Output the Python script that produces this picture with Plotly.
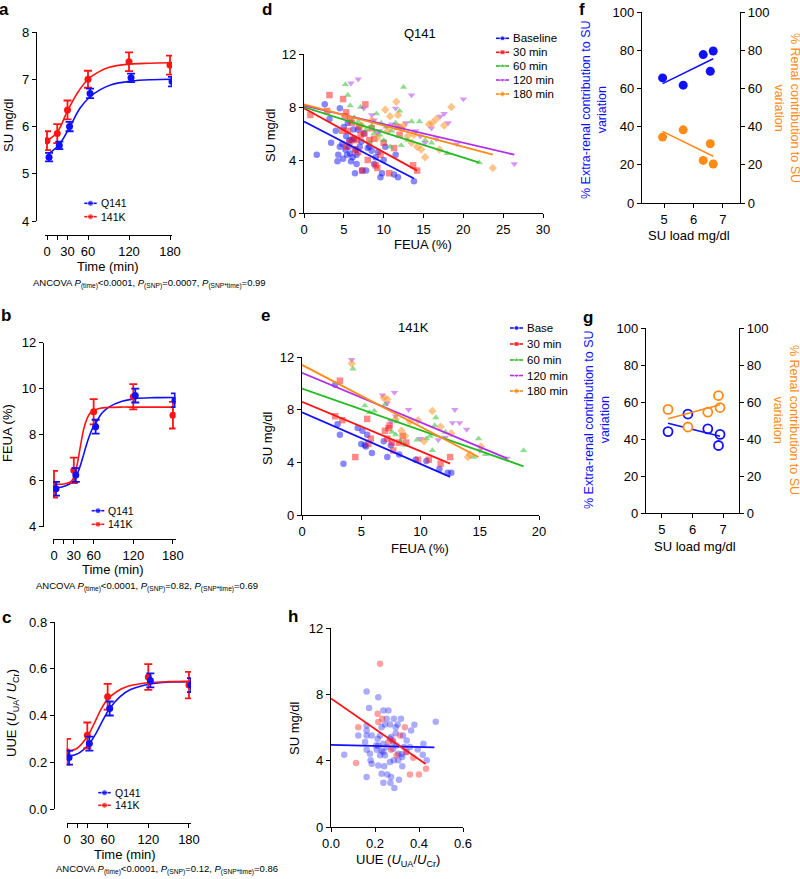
import plotly.graph_objects as go

W, H = 800, 879
FONT = "Liberation Sans, Arial, Helvetica, sans-serif"
BLUE = "#1010ff"
RED = "#ff1414"
GREEN = "#22bb22"
PURPLE = "#b030e8"
ORANGE = "#ff8a14"

# ------------------------------------------------------------------ data
# panel a : SU over time
a_time = [0, 15, 30, 60, 120, 180]
a_q141 = [5.35, 5.60, 6.00, 6.70, 7.03, 6.95]
a_q141_sem = [0.09, 0.08, 0.10, 0.10, 0.09, 0.10]
a_141k = [5.70, 5.85, 6.35, 7.00, 7.37, 7.30]
a_141k_sem = [0.20, 0.20, 0.20, 0.18, 0.20, 0.20]
a_fit_t = [0, 15, 30, 45, 60, 75, 90, 120, 150, 180]
a_fit_q141 = [5.43, 5.62, 5.98, 6.38, 6.63, 6.78, 6.88, 6.96, 6.99, 7.00]
a_fit_141k = [5.70, 5.88, 6.33, 6.72, 7.00, 7.15, 7.25, 7.32, 7.34, 7.35]

# panel b : FEUA over time
b_time = [0, 30, 60, 120, 180]
b_q141 = [5.65, 6.25, 8.35, 9.70, 9.50]
b_q141_sem = [0.30, 0.30, 0.30, 0.30, 0.30]
b_141k = [5.85, 6.45, 9.00, 9.65, 8.85]
b_141k_sem = [0.58, 0.55, 0.55, 0.55, 0.58]
b_fit_t = [0, 15, 25, 30, 35, 40, 45, 50, 55, 60, 70, 80, 100, 120, 150, 180]
b_fit_q141 = [5.68, 5.78, 5.95, 6.15, 6.50, 6.95, 7.45, 7.90, 8.25, 8.50, 8.95, 9.20, 9.45, 9.57, 9.61, 9.62]
b_fit_141k = [5.85, 5.86, 5.95, 6.15, 6.70, 7.50, 8.25, 8.70, 8.95, 9.05, 9.15, 9.18, 9.20, 9.20, 9.20, 9.20]

# panel c : UUE over time
c_time = [0, 30, 60, 120, 180]
c_q141 = [0.22, 0.28, 0.43, 0.55, 0.53]
c_q141_sem = [0.03, 0.03, 0.03, 0.03, 0.03]
c_141k = [0.245, 0.315, 0.48, 0.565, 0.53]
c_141k_sem = [0.055, 0.055, 0.055, 0.055, 0.057]
c_fit_t = [0, 15, 30, 40, 50, 60, 75, 90, 120, 150, 180]
c_fit_q141 = [0.225, 0.24, 0.28, 0.325, 0.38, 0.43, 0.48, 0.51, 0.535, 0.543, 0.545]
c_fit_141k = [0.245, 0.26, 0.31, 0.365, 0.425, 0.47, 0.505, 0.525, 0.54, 0.545, 0.546]

time_ticks = [0, 15, 30, 60, 120, 180]
time_ticktext = ["0", "", "30", "60", "120", "180"]

# panel d : Q141 SU vs FEUA
d_groups = ["Baseline", "30 min", "60 min", "120 min", "180 min"]
d_x = {
    "Baseline": [1.6, 2.6, 3.2, 3.4, 4.0, 4.2, 4.3, 4.5, 4.5, 4.8, 5.0, 5.2, 5.3, 5.4, 5.6, 5.8, 5.9, 6.0,
                 6.1, 6.2, 6.4, 6.5, 6.6, 6.8, 7.0, 7.3, 7.5, 7.8, 8.0, 8.2, 8.5, 8.8, 9.0, 9.3, 9.6, 9.8,
                 10.0, 10.2, 11.3, 11.5, 11.8, 13.8, 5.5, 6.3, 7.2, 4.9, 5.7, 6.6],
    "30 min": [0.8, 3.2, 2.9, 4.9, 5.1, 5.3, 5.3, 5.5, 5.7, 6.0, 6.2, 6.4, 6.6, 6.9, 7.1, 7.3, 7.7, 8.0,
               8.2, 8.5, 8.8, 9.0, 9.2, 9.6, 10.0, 10.7, 11.3, 11.7, 12.0, 13.7, 14.2, 4.8, 5.8, 6.8, 7.6],
    "60 min": [5.2, 5.5, 5.8, 6.3, 7.1, 7.3, 7.8, 8.2, 8.5, 9.1, 9.5, 10.0, 10.3, 11.0, 11.5, 12.0, 12.5,
               13.0, 13.5, 14.5, 15.2, 16.0, 18.0, 22.0, 6.8, 8.8, 10.8, 12.2, 9.7],
    "120 min": [5.9, 6.8, 7.5, 8.5, 8.8, 9.5, 10.3, 11.0, 11.5, 12.2, 13.5, 14.0, 15.2, 16.0, 17.1, 17.6,
                18.1, 19.2, 20.0, 26.4, 12.8, 16.6, 9.2, 14.6],
    "180 min": [7.2, 9.2, 10.2, 10.8, 11.6, 11.8, 12.2, 13.0, 13.5, 14.2, 14.7, 15.2, 15.7, 16.1, 16.6,
                17.0, 17.6, 18.5, 23.7, 8.5, 12.5, 13.8, 10.5],
}
d_y = {
    "Baseline": [4.4, 8.2, 7.1, 5.3, 6.2, 3.9, 4.4, 5.0, 7.9, 5.2, 6.5, 4.8, 5.8, 4.4, 5.0, 4.5, 3.9, 5.5,
                 4.2, 6.3, 3.0, 4.8, 3.7, 6.3, 5.0, 3.2, 6.0, 3.2, 4.9, 5.0, 4.7, 3.7, 4.2, 4.6, 2.7, 3.0,
                 4.0, 5.0, 2.9, 4.4, 2.7, 2.4, 6.8, 5.6, 5.4, 4.1, 5.5, 4.4],
    "30 min": [7.4, 8.9, 7.7, 8.6, 7.3, 7.6, 5.0, 6.2, 5.3, 6.8, 5.6, 4.8, 5.5, 6.5, 5.9, 3.2, 8.2, 4.0,
               5.5, 6.4, 5.6, 3.6, 3.4, 4.4, 5.3, 3.0, 4.9, 6.5, 5.9, 3.6, 3.2, 6.2, 7.0, 4.6, 6.0],
    "60 min": [9.7, 8.9, 8.1, 7.2, 8.0, 6.6, 6.3, 5.3, 6.6, 7.5, 5.9, 5.5, 6.5, 6.2, 6.8, 7.7, 9.5,
               5.5, 6.9, 6.9, 5.5, 5.3, 4.5, 3.8, 6.9, 6.0, 5.0, 5.1, 6.8],
    "120 min": [9.8, 10.1, 7.9, 7.4, 7.0, 6.2, 6.6, 6.7, 7.9, 6.4, 8.9, 6.2, 5.3, 6.4, 7.3, 7.5,
                6.8, 5.2, 8.6, 3.7, 6.8, 5.6, 6.1, 5.8],
    "180 min": [6.6, 5.7, 7.8, 7.3, 8.4, 7.4, 6.4, 5.8, 5.3, 5.0, 4.8, 4.2, 6.7, 6.8, 7.1,
                4.8, 6.6, 8.0, 3.4, 7.0, 6.6, 5.9, 6.2],
}
d_fit_x = {"Baseline": [0, 13.8], "30 min": [0, 14.2], "60 min": [0, 22.0], "120 min": [0, 26.4], "180 min": [0, 23.7]}
d_fit_y = {"Baseline": [6.9, 2.6], "30 min": [7.9, 3.2], "60 min": [8.0, 3.8], "120 min": [8.1, 4.4], "180 min": [8.2, 4.4]}

# panel e : 141K SU vs FEUA
e_groups = ["Base", "30 min", "60 min", "120 min", "180 min"]
e_x = {
    "Base": [2.8, 3.0, 3.2, 3.5, 4.7, 5.0, 5.1, 5.3, 5.5, 5.9, 6.9, 7.2, 7.5, 8.2, 9.6, 10.5, 11.6, 12.3, 12.6, 5.4],
    "30 min": [2.8, 3.2, 3.4, 4.5, 5.5, 5.6, 5.8, 7.0, 7.2, 7.3, 7.4, 7.7, 8.2, 8.5, 8.8, 9.8, 10.7, 11.7, 12.5, 7.6],
    "60 min": [4.3, 5.3, 5.7, 6.1, 7.0, 7.6, 7.9, 8.3, 8.7, 9.7, 10.5, 10.8, 11.0, 11.3, 11.2, 12.1, 14.5, 14.9, 15.5, 18.7, 8.0],
    "120 min": [4.2, 6.8, 7.2, 7.8, 7.9, 9.0, 10.0, 11.5, 12.1, 12.7, 12.9, 13.3, 13.9, 15.0, 17.3, 7.5],
    "180 min": [4.2, 6.9, 7.2, 7.9, 8.4, 8.7, 9.1, 9.8, 10.3, 11.0, 11.7, 12.6, 14.0, 14.2, 15.1],
}
e_y = {
    "Base": [9.9, 6.9, 6.1, 3.9, 6.6, 5.4, 6.4, 5.3, 6.1, 4.7, 5.6, 4.4, 5.3, 4.6, 4.2, 4.1, 3.5, 3.2, 3.2, 5.2],
    "30 min": [7.5, 10.2, 7.2, 4.4, 7.3, 5.4, 5.8, 6.4, 5.8, 6.6, 6.8, 4.9, 5.5, 6.0, 5.5, 4.2, 4.2, 3.9, 4.4, 5.5],
    "60 min": [11.1, 8.3, 7.8, 7.9, 8.4, 6.3, 6.1, 5.6, 5.3, 5.7, 5.8, 6.0, 4.9, 7.4, 6.8, 6.3, 4.4, 5.8, 4.6, 4.9, 7.1],
    "120 min": [11.8, 9.1, 8.5, 9.3, 7.5, 8.0, 5.8, 5.7, 5.9, 7.0, 8.0, 7.0, 6.5, 4.9, 4.3, 7.1],
    "180 min": [11.5, 8.9, 8.8, 7.3, 6.4, 6.0, 7.1, 7.2, 5.6, 7.9, 6.7, 6.2, 4.4, 4.6, 5.2],
}
e_fit_x = {"Base": [0, 12.5], "30 min": [0, 12.5], "60 min": [0, 18.7], "120 min": [0, 17.3], "180 min": [0, 14.9]}
e_fit_y = {"Base": [7.8, 2.9], "30 min": [8.6, 3.9], "60 min": [9.6, 3.7], "120 min": [10.8, 4.3], "180 min": [11.4, 4.4]}

# panel f : Q141 contributions vs SU load
f_load = [4.95, 5.65, 6.33, 6.57, 6.67]
f_extra = [65.5, 61.7, 77.7, 69.0, 79.6]
f_renal = [34.5, 38.3, 22.3, 31.0, 20.4]
f_fit_x = [4.95, 6.67]
f_fit_extra = [62.5, 75.5]
f_fit_renal = [37.5, 24.5]

# panel g : 141K contributions vs SU load
g_load = [5.2, 5.85, 6.5, 6.85, 6.9]
g_extra = [44.0, 53.5, 45.5, 36.5, 42.5]
g_renal = [56.0, 46.5, 54.5, 63.5, 57.0]
g_fit_x = [5.2, 6.9]
g_fit_extra = [48.5, 41.5]
g_fit_renal = [51.0, 58.5]

# panel h : SU vs UUE
h_blue_x = [0.06, 0.162, 0.215, 0.173, 0.162, 0.124, 0.162, 0.162, 0.155, 0.162, 0.177, 0.18, 0.185, 0.162,
            0.212, 0.205, 0.208, 0.215, 0.23, 0.238, 0.238, 0.261, 0.253, 0.268, 0.245, 0.23, 0.223, 0.238,
            0.253, 0.238, 0.223, 0.245, 0.268, 0.242, 0.256, 0.27, 0.273, 0.288, 0.286, 0.303, 0.318, 0.294,
            0.294, 0.273, 0.282, 0.298, 0.282, 0.306, 0.285, 0.306, 0.321, 0.324, 0.324, 0.309, 0.327, 0.332,
            0.344, 0.364, 0.379, 0.394, 0.42, 0.417, 0.435, 0.476, 0.268, 0.23, 0.215, 0.185, 0.344, 0.359]
h_blue_y = [4.36, 8.17, 7.83, 7.17, 6.12, 5.52, 5.52, 5.82, 5.12, 4.66, 4.42, 4.02, 3.82, 3.01,
            5.32, 4.92, 4.66, 3.71, 3.21, 2.67, 7.03, 7.03, 6.53, 6.18, 6.18, 6.02, 5.52, 5.02,
            4.82, 4.52, 4.32, 4.32, 3.92, 3.67, 3.17, 2.67, 3.01, 2.35, 6.53, 6.18, 6.53, 6.02,
            5.66, 5.42, 5.12, 4.92, 4.72, 4.42, 4.02, 4.02, 4.38, 4.22, 3.67, 2.85, 5.52, 4.82,
            4.52, 5.82, 6.16, 4.68, 5.02, 4.36, 4.02, 6.35, 5.32, 4.62, 4.92, 5.52, 5.22, 4.82]
h_red_x = [0.223, 0.212, 0.215, 0.233, 0.124, 0.114, 0.336, 0.314, 0.282, 0.261, 0.273, 0.298, 0.341,
           0.374, 0.359, 0.40, 0.432]
h_red_y = [9.84, 6.83, 6.33, 6.53, 6.02, 3.86, 6.02, 5.52, 5.22, 5.12, 4.66, 4.32, 4.52,
           4.18, 3.17, 3.17, 3.51]
h_fit_blue_x = [0, 0.47]
h_fit_blue_y = [4.95, 4.80]
h_fit_red_x = [0, 0.43]
h_fit_red_y = [7.75, 3.80]

group_colors = [BLUE, RED, GREEN, PURPLE, ORANGE]
group_symbols = ["circle", "square", "triangle-up", "triangle-down", "diamond"]

# ------------------------------------------------------------------ helpers
def fx(p):
    return p / W


def fy(p):
    return 1 - p / H


BASE_AX = dict(showline=True, linecolor="black", linewidth=1.4, ticks="outside", ticklen=4,
               tickwidth=1.4, tickcolor="black", showgrid=False, zeroline=False, automargin=False,
               tickangle=0, tickfont=dict(family=FONT, size=13, color="black"), fixedrange=True)


def ax(**kw):
    d = dict(BASE_AX)
    d.update(kw)
    return d


fig = go.Figure()
OFFSET_Q141 = 3  # horizontal nudge of the Q141 series, as in the original


def time_panel(xa, ya, t, q, qs, k, ks, ft, fq, fk):
    fig.add_trace(go.Scatter(x=[v + OFFSET_Q141 for v in ft], y=fq, mode="lines", xaxis=xa, yaxis=ya,
                             line=dict(color=BLUE, width=1.6, shape="spline", smoothing=1.0), showlegend=False))
    fig.add_trace(go.Scatter(x=ft, y=fk, mode="lines", xaxis=xa, yaxis=ya,
                             line=dict(color=RED, width=1.6, shape="spline", smoothing=1.0), showlegend=False))
    fig.add_trace(go.Scatter(x=t, y=k, mode="markers", xaxis=xa, yaxis=ya,
                             marker=dict(color=RED, size=7),
                             error_y=dict(type="data", array=ks, color=RED, thickness=1.8, width=4),
                             showlegend=False))
    fig.add_trace(go.Scatter(x=[v + OFFSET_Q141 for v in t], y=q, mode="markers", xaxis=xa, yaxis=ya,
                             marker=dict(color=BLUE, size=7),
                             error_y=dict(type="data", array=qs, color=BLUE, thickness=1.8, width=4),
                             showlegend=False))


time_panel("x", "y", a_time, a_q141, a_q141_sem, a_141k, a_141k_sem, a_fit_t, a_fit_q141, a_fit_141k)
time_panel("x2", "y2", b_time, b_q141, b_q141_sem, b_141k, b_141k_sem, b_fit_t, b_fit_q141, b_fit_141k)
time_panel("x3", "y3", c_time, c_q141, c_q141_sem, c_141k, c_141k_sem, c_fit_t, c_fit_q141, c_fit_141k)


def scatter_panel(xa, ya, groups, xs, ys, fxs, fys):
    for g, c, s in zip(groups, group_colors, group_symbols):
        fig.add_trace(go.Scatter(x=xs[g], y=ys[g], mode="markers", xaxis=xa, yaxis=ya,
                                 marker=dict(color=c, size=6.5, symbol=s, opacity=0.5, line=dict(width=0)),
                                 showlegend=False))
    for g, c in zip(groups, group_colors):
        fig.add_trace(go.Scatter(x=fxs[g], y=fys[g], mode="lines", xaxis=xa, yaxis=ya,
                                 line=dict(color=c, width=1.8), showlegend=False))


scatter_panel("x4", "y4", d_groups, d_x, d_y, d_fit_x, d_fit_y)
scatter_panel("x5", "y5", e_groups, e_x, e_y, e_fit_x, e_fit_y)

# panel f
fig.add_trace(go.Scatter(x=f_load, y=f_extra, mode="markers", xaxis="x6", yaxis="y6",
                         marker=dict(color=BLUE, size=9), showlegend=False))
fig.add_trace(go.Scatter(x=f_fit_x, y=f_fit_extra, mode="lines", xaxis="x6", yaxis="y6",
                         line=dict(color=BLUE, width=1.6), showlegend=False))
fig.add_trace(go.Scatter(x=f_load, y=f_renal, mode="markers", xaxis="x6", yaxis="y7",
                         marker=dict(color=ORANGE, size=9), showlegend=False))
fig.add_trace(go.Scatter(x=f_fit_x, y=f_fit_renal, mode="lines", xaxis="x6", yaxis="y7",
                         line=dict(color=ORANGE, width=1.6), showlegend=False))
# panel g
fig.add_trace(go.Scatter(x=g_load, y=g_extra, mode="markers", xaxis="x7", yaxis="y8",
                         marker=dict(color="white", size=9, line=dict(color=BLUE, width=1.8)), showlegend=False))
fig.add_trace(go.Scatter(x=g_fit_x, y=g_fit_extra, mode="lines", xaxis="x7", yaxis="y8",
                         line=dict(color=BLUE, width=1.6), showlegend=False))
fig.add_trace(go.Scatter(x=g_load, y=g_renal, mode="markers", xaxis="x7", yaxis="y9",
                         marker=dict(color="white", size=9, line=dict(color=ORANGE, width=1.8)), showlegend=False))
fig.add_trace(go.Scatter(x=g_fit_x, y=g_fit_renal, mode="lines", xaxis="x7", yaxis="y9",
                         line=dict(color=ORANGE, width=1.6), showlegend=False))
# panel h
fig.add_trace(go.Scatter(x=h_blue_x, y=h_blue_y, mode="markers", xaxis="x8", yaxis="y10",
                         marker=dict(color=BLUE, size=6.5, opacity=0.35), showlegend=False))
fig.add_trace(go.Scatter(x=h_red_x, y=h_red_y, mode="markers", xaxis="x8", yaxis="y10",
                         marker=dict(color=RED, size=6.5, opacity=0.4), showlegend=False))
fig.add_trace(go.Scatter(x=h_fit_blue_x, y=h_fit_blue_y, mode="lines", xaxis="x8", yaxis="y10",
                         line=dict(color=BLUE, width=1.8), showlegend=False))
fig.add_trace(go.Scatter(x=h_fit_red_x, y=h_fit_red_y, mode="lines", xaxis="x8", yaxis="y10",
                         line=dict(color=RED, width=1.8), showlegend=False))

# ------------------------------------------------------------------ legends (drawn on a pixel overlay)
annotations = []


def text(x, y, s, size=13, xanchor="center", yanchor="middle", color="black", angle=0):
    annotations.append(dict(x=fx(x), y=fy(y), xref="paper", yref="paper", text=s, showarrow=False,
                            xanchor=xanchor, yanchor=yanchor, textangle=angle, borderpad=0,
                            font=dict(family=FONT, size=size, color=color)))


def legend(x0, x1, rows, names, colors, symbols, size=10.5, msize=6):
    for yy, n, c, s in zip(rows, names, colors, symbols):
        fig.add_trace(go.Scatter(x=[x0, (x0 + x1) / 2, x1], y=[yy, yy, yy], mode="lines+markers",
                                 xaxis="x9", yaxis="y11", line=dict(color=c, width=1.6),
                                 marker=dict(color=c, size=[0, msize, 0], symbol=s), showlegend=False))
        text(x1 + 3, yy, n, size=size, xanchor="left")


legend(84.3, 96.7, [203.3, 216.7], ["Q141", "141K"], [BLUE, RED], ["circle", "circle"])
legend(91.7, 104.3, [510.7, 524.3], ["Q141", "141K"], [BLUE, RED], ["circle", "circle"])
legend(98.3, 110.7, [792.7, 805.3], ["Q141", "141K"], [BLUE, RED], ["circle", "circle"])
legend(496, 509, [38.3, 52.3, 66, 80, 94], d_groups, group_colors, group_symbols, size=11.5, msize=5)
legend(510, 523, [328, 344, 360, 375.5, 391], e_groups, group_colors, group_symbols, size=11.5, msize=5)

# ------------------------------------------------------------------ text
for lab, x, y in [("a", 4, 10), ("b", 6, 315), ("c", 6, 617), ("d", 267, 10), ("e", 265, 316),
                  ("f", 582, 10), ("g", 588, 317), ("h", 293, 616)]:
    text(x, y, "<b>%s</b>" % lab, size=17)

text(108, 266, "Time (min)")
text(113, 569, "Time (min)")
text(125, 854, "Time (min)")
text(9, 125, "SU mg/dl", angle=-90)
text(8, 433, "FEUA (%)", angle=-90)
text(12, 713, "UUE (<i>U</i><sub>UA</sub>/ <i>U</i><sub>Cr</sub>)", angle=-90)
text(423, 244, "FEUA (%)")
text(420, 548, "FEUA (%)")
text(270, 135, "SU mg/dl", angle=-90)
text(267, 438, "SU mg/dl", angle=-90)
text(420, 33, "Q141")
text(413, 328, "141K")
text(689, 235, "SU load mg/dl")
text(695, 546, "SU load mg/dl")
text(398, 860, "UUE (<i>U</i><sub>UA</sub>/<i>U</i><sub>Cr</sub>)")
text(294, 728, "SU mg/dl", angle=-90)
text(594, 110, "% Extra-renal contribution to SU<br>variation", color=BLUE, angle=-90, size=12.5)
text(597, 420, "% Extra-renal contribution to SU<br>variation", color=BLUE, angle=-90, size=12.5)
text(787, 108, "% Renal contribution to SU<br>variation", color=ORANGE, angle=90, size=12.5)
text(786, 420, "% Renal contribution to SU<br>variation", color=ORANGE, angle=90, size=12.5)

P = "<i>P</i>"
text(32, 283, "ANCOVA %s<sub>(time)</sub>&lt;0.0001, %s<sub>(SNP)</sub>=0.0007, %s<sub>(SNP*time)</sub>=0.99" % (P, P, P),
     size=9.5, xanchor="left")
text(35, 586, "ANCOVA %s<sub>(time)</sub>&lt;0.0001, %s<sub>(SNP)</sub>=0.82, %s<sub>(SNP*time)</sub>=0.69" % (P, P, P),
     size=9.5, xanchor="left")
text(55, 869, "ANCOVA %s<sub>(time)</sub>&lt;0.0001, %s<sub>(SNP)</sub>=0.12, %s<sub>(SNP*time)</sub>=0.86" % (P, P, P),
     size=9.5, xanchor="left")

# ------------------------------------------------------------------ layout
layout = dict(
    template="none",
    width=W, height=H, margin=dict(l=0, r=0, t=0, b=0, pad=0, autoexpand=False),
    paper_bgcolor="white", plot_bgcolor="rgba(0,0,0,0)",
    showlegend=False, font=dict(family=FONT, color="black"), annotations=annotations,
    # a
    xaxis=ax(domain=[fx(44.95), fx(172.05)], range=[-3, 183], anchor="free", position=fy(235),
             tickvals=time_ticks, ticktext=time_ticktext),
    yaxis=ax(domain=[fy(221), fy(32)], range=[4, 8], anchor="free", position=fx(36), tickvals=[4, 5, 6, 7, 8]),
    # b
    xaxis2=ax(domain=[fx(53.0), fx(175.6)], range=[-1.5, 184], anchor="free", position=fy(539),
              tickvals=time_ticks, ticktext=time_ticktext),
    yaxis2=ax(domain=[fy(526.7), fy(342.7)], range=[4, 12], anchor="free", position=fx(43),
              tickvals=[4, 6, 8, 10, 12]),
    # c
    xaxis3=ax(domain=[fx(66.66), fx(191.0)], range=[-0.5, 183], anchor="free", position=fy(823),
              tickvals=time_ticks, ticktext=time_ticktext),
    yaxis3=ax(domain=[fy(809), fy(622)], range=[0, 0.8], anchor="free", position=fx(54),
              tickvals=[0, 0.2, 0.4, 0.6, 0.8], tickformat=".1f"),
    # d
    xaxis4=ax(domain=[fx(304), fx(543)], range=[0, 30], anchor="y4", tickvals=[0, 5, 10, 15, 20, 25, 30]),
    yaxis4=ax(domain=[fy(213), fy(54)], range=[0, 12], anchor="x4", tickvals=[0, 4, 8, 12]),
    # e
    xaxis5=ax(domain=[fx(302), fx(539)], range=[0, 20], anchor="y5", tickvals=[0, 5, 10, 15, 20]),
    yaxis5=ax(domain=[fy(515), fy(357)], range=[0, 12], anchor="x5", tickvals=[0, 4, 8, 12]),
    # f
    xaxis6=ax(domain=[fx(642), fx(740)], range=[4.25, 7.58], anchor="y6", tickvals=[5, 6, 7]),
    yaxis6=ax(domain=[fy(203), fy(12)], range=[0, 100], anchor="x6", tickvals=[0, 20, 40, 60, 80, 100]),
    yaxis7=ax(range=[0, 100], anchor="x6", overlaying="y6", side="right", tickvals=[0, 20, 40, 60, 80, 100]),
    # g
    xaxis7=ax(domain=[fx(646), fx(739)], range=[4.48, 7.52], anchor="y8", tickvals=[5, 6, 7]),
    yaxis8=ax(domain=[fy(513), fy(328)], range=[0, 100], anchor="x7", tickvals=[0, 20, 40, 60, 80, 100]),
    yaxis9=ax(range=[0, 100], anchor="x7", overlaying="y8", side="right", tickvals=[0, 20, 40, 60, 80, 100]),
    # h
    xaxis8=ax(domain=[fx(331), fx(463)], range=[0, 0.6], anchor="y10", tickvals=[0, 0.2, 0.4, 0.6],
              tickformat=".1f"),
    yaxis10=ax(domain=[fy(827), fy(628)], range=[0, 12], anchor="x8", tickvals=[0, 4, 8, 12]),
    # pixel overlay for legend glyphs
    xaxis9=dict(domain=[0, 1], range=[0, W], visible=False, fixedrange=True, anchor="y11", automargin=False),
    yaxis11=dict(domain=[0, 1], range=[H, 0], visible=False, fixedrange=True, anchor="x9", automargin=False),
)
fig.update_layout(**layout)
fig.write_html("out.html", config={"displayModeBar": False},
               post_script="document.body.style.margin='0';document.body.style.overflow='hidden';")
